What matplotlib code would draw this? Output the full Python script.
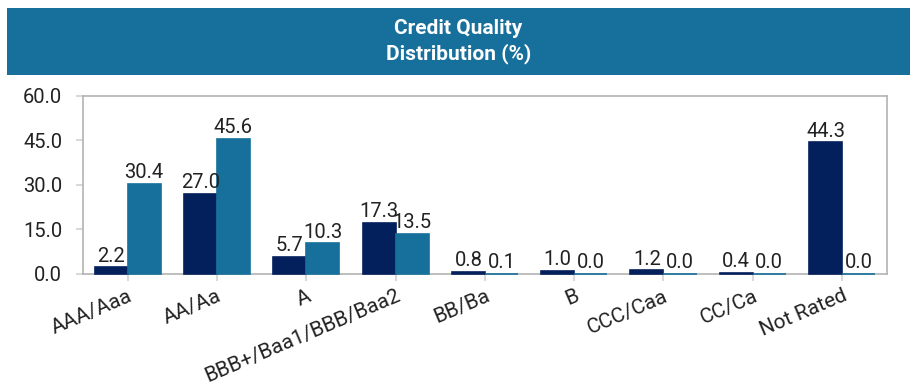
import numpy as np
import matplotlib
matplotlib.use("Agg")
from matplotlib import pyplot as plt
from matplotlib.patches import Rectangle

categories = ["AAA/Aaa", "AA/Aa", "A", "BBB+/Baa1/BBB/Baa2", "BB/Ba",
              "B", "CCC/Caa", "CC/Ca", "Not Rated"]
series_navy = [2.2, 27.0, 5.7, 17.3, 0.8, 1.0, 1.2, 0.4, 44.3]
series_teal = [30.4, 45.6, 10.3, 13.5, 0.1, 0.0, 0.0, 0.0, 0.0]
y_ticks = [0.0, 15.0, 30.0, 45.0, 60.0]

NAVY = "#03205C"
TEAL = "#17709C"

plt.rcParams['font.family'] = ['Roboto', 'DejaVu Sans']

fig = plt.figure(figsize=(9.17, 3.88), dpi=100)

# title band
fig.patches.append(Rectangle((0.0076, 0.807), 0.9848, 0.172, transform=fig.transFigure,
                             facecolor=TEAL, edgecolor="none", zorder=0))
fig.text(0.5, 0.893, "Credit Quality\nDistribution (%)", ha="center", va="center",
         color="white", fontsize=15, fontweight="bold", linespacing=1.3)

ax = fig.add_axes([0.0905, 0.294, 0.8765, 0.459])
x = np.arange(len(categories))
w = 0.37
bn = ax.bar(x - w / 2, series_navy, w, color=NAVY, edgecolor=NAVY, linewidth=1.2,
            zorder=3, clip_on=False)
bt = ax.bar(x + w / 2, series_teal, w, color=TEAL, edgecolor=TEAL, linewidth=1.2,
            zorder=3, clip_on=False)

for bars, vals in ((bn, series_navy), (bt, series_teal)):
    for b, v in zip(bars, vals):
        ax.text(b.get_x() + b.get_width() / 2, v + 0.6, f"{v:.1f}", ha="center", va="bottom",
                fontsize=14.5, color="#222222", zorder=4)

ax.set_xlim(-0.5, len(categories) - 0.5)
ax.set_ylim(0, 60)
ax.set_yticks(y_ticks)
ax.set_yticklabels([f"{v:.1f}" for v in y_ticks], fontsize=14.5, color="#222222")
ax.set_xticks(x)
ax.set_xticklabels(categories, rotation=23, ha="right", rotation_mode="anchor",
                   fontsize=15, color="#222222")
ax.tick_params(axis="both", color="#d9d9d9", length=5, width=1.5)
ax.tick_params(axis="y", pad=10)
ax.tick_params(axis="x", pad=4)
for s in ax.spines.values():
    s.set_color("#b3b3b3")
    s.set_linewidth(1.2)

fig.savefig("out.png", dpi=100)
